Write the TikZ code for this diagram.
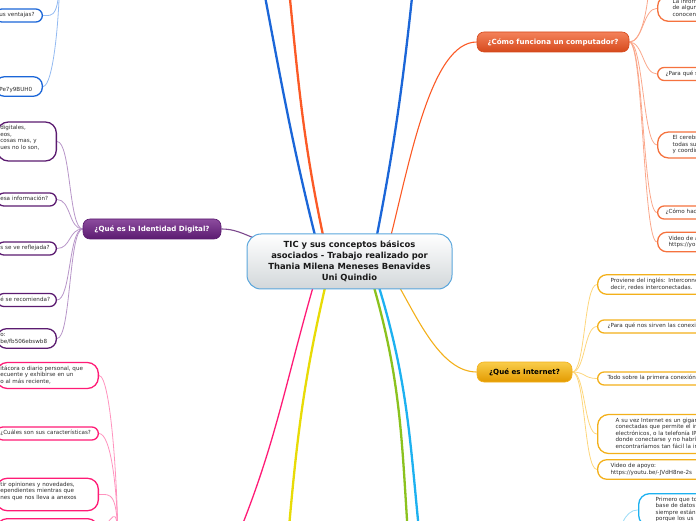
\documentclass[tikz,border=0pt]{standalone}
\usepackage{fontspec}
\setmainfont{DejaVu Sans}
\usepackage{xcolor}
\definecolor{cCenter}{HTML}{5AA6DC}
\definecolor{cCenterBot}{HTML}{D2D7DA}
\definecolor{cPurple}{HTML}{5B1B70}
\definecolor{cPurpleTop}{HTML}{8C4C9E}
\definecolor{cPurpleLine}{HTML}{B795C8}
\definecolor{cOrange}{HTML}{FB5A26}
\definecolor{cOrangeTop}{HTML}{F4825A}
\definecolor{cOrangeBot}{HTML}{D6491C}
\definecolor{cOrangeBox}{HTML}{F5723E}
\definecolor{cOrangeLine}{HTML}{FAA78B}
\definecolor{cAmber}{HTML}{F3B01A}
\definecolor{cAmberTop}{HTML}{F9CD4A}
\definecolor{cAmberBot}{HTML}{E39A00}
\definecolor{cAmberLine}{HTML}{FDD67C}
\definecolor{cBlue}{HTML}{1B66D8}
\definecolor{cBlueLine}{HTML}{93BAF1}
\definecolor{cPink}{HTML}{FF1B76}
\definecolor{cPinkLine}{HTML}{FF93BE}
\definecolor{cYellow}{HTML}{E8DB06}
\definecolor{cGreen}{HTML}{8BC21E}
\definecolor{cCyan}{HTML}{1DB1F0}
\definecolor{cCyanLine}{HTML}{9BDCF7}
\definecolor{cText}{HTML}{2E2E2E}
\usepackage{tikz}
\usetikzlibrary{positioning,backgrounds}
\tikzset{
  node-center/.style={draw=cCenter,line width=1pt,rounded corners=14pt,
    top color=white,bottom color=cCenterBot,minimum width=205pt,
    minimum height=55pt,align=center,text=black!90,
    font=\fontsize{8.4}{11}\selectfont\bfseries},
  node-main/.style={rounded corners=7pt,minimum height=20pt,inner xsep=0pt,
    line width=0.6pt,font=\fontsize{7.1}{8.5}\selectfont\bfseries,text=white},
  node-purple/.style={draw=cPurple,top color=cPurpleTop,bottom color=cPurple},
  node-orange/.style={draw=cOrangeBot,top color=cOrangeTop,bottom color=cOrangeBot},
  node-amber/.style={draw=cAmber,top color=cAmberTop,bottom color=cAmberBot,text=black},
  node-child/.style={fill=white,line width=1.3pt,rounded corners=6.5pt,
    inner ysep=3.25pt,align=left,text=cText,font=\fontsize{5.6}{6.5}\selectfont,
    execute at begin node=\strut,execute at end node=\strut},
  child-left/.style={node-child,anchor=east,inner xsep=3pt},
  child-right/.style={node-child,anchor=west,text width=130pt},
  link-main/.style={line width=2.3pt},
  link-thin/.style={line width=1.1pt},
  link-sub/.style={line width=0.8pt},
}

\begin{document}
\begin{tikzpicture}[x=1pt,y=1pt]
  \useasboundingbox (0,0) rectangle (696,520);
  \node[node-center] (tic) at (349.5,258.5)
    {TIC y sus conceptos básicos\\asociados - Trabajo realizado por\\Thania Milena Meneses Benavides\\Uni Quindio};
  \node[node-main,node-purple,minimum width=138pt] (idd) at (152,291) {¿Qué es la Identidad Digital?};
  \node[node-main,node-orange,minimum width=152pt] (cmp) at (553,478) {¿Cómo funciona un computador?};
  \node[node-main,node-amber,minimum width=95pt] (net) at (524.5,148) {¿Qué es Internet?};
  % ramas que siguen fuera del cuadro
  \coordinate (blu) at (258,560);
  \coordinate (org) at (286,560);
  \coordinate (blv) at (416,560);
  \coordinate (pnk) at (232,-30);
  \coordinate (ylw) at (287,-30);
  \coordinate (grn) at (409,-30);
  \coordinate (cyn) at (421,-30);
  \coordinate (bhub) at (60,560);
  \coordinate (phub) at (118,-30);
  \coordinate (chub) at (618,-30);
  \coordinate (cup) at (650,560);

  % identidad digital
  \node[child-left,draw=cPurple,text width=53pt,rounded corners=11pt] (id1) at (57,378.5) {digitales,\\eos,\\cosas mas, y\\ues no lo son,\\\mbox{}};
  \node[child-left,draw=cPurple,text width=53pt] (id2) at (57,320.5) {esa información?};
  \node[child-left,draw=cPurple,text width=53pt] (id3) at (57,271.5) {s se ve reflejada?};
  \node[child-left,draw=cPurple,text width=53pt] (id4) at (57,220) {é se recomienda?};
  \node[child-left,draw=cPurple,text width=53pt,rounded corners=9pt] (id5) at (57,181.5) {o:\\be/fb506ebswb8};

  \node[child-left,draw=cBlue,text width=39pt,inner xsep=4pt] (bl1) at (43,504.5) {us ventajas?};
  \node[child-left,draw=cBlue,text width=39pt,inner xsep=4pt,rounded corners=9pt] (bl2) at (43,433.5) {\mbox{}\\Pe7y9BUH0};

  \node[child-left,draw=cPink,text width=94pt,inner xsep=4pt,rounded corners=11pt] (pk1) at (99,144.5) {itácora o diario personal, que\\ecuente y exhibirse en un\\o al más reciente,};
  \node[child-left,draw=cPink,text width=94pt,inner xsep=4pt] (pk2) at (99,86.5) {¿Cuáles son sus características?};
  \node[child-left,draw=cPink,text width=94pt,inner xsep=4pt,rounded corners=11pt] (pk3) at (99,25.5) {tir opiniones y novedades,\\ependientes mientras que\\nes que nos lleva a anexos\\\mbox{}};
  \node[child-left,draw=cPink,text width=94pt,inner xsep=4pt,rounded corners=11pt,anchor=north east] (pk4) at (99,2) {\mbox{}\\\mbox{}};

  % como funciona un computador
  \node[child-right,draw=cOrangeBox,inner xsep=15pt,rounded corners=11pt,anchor=south west] (cp1) at (657,498) {La inform\\de algun\\conocen};
  \node[child-right,draw=cOrangeBox,inner xsep=8pt] (cp2) at (657,446) {¿Para qué s};
  \node[child-right,draw=cOrangeBox,inner xsep=15pt,rounded corners=11pt] (cp3) at (657,375) {El cerebr\\todas su\\y coordin};
  \node[child-right,draw=cOrangeBox,inner xsep=8pt] (cp4) at (657,307.5) {¿Cómo hac};
  \node[child-right,draw=cOrangeBox,inner xsep=11pt,rounded corners=9pt] (cp5) at (657,278) {Video de a\\https://yo};

  % internet
  \node[child-right,draw=cAmber,inner xsep=13pt,rounded corners=9pt] (in1) at (597,235.5) {Proviene del inglés: Interconne\\decir, redes interconectadas.};
  \node[child-right,draw=cAmber,inner xsep=10pt] (in2) at (597,193.5) {¿Para qué nos sirven las conexio};
  \node[child-right,draw=cAmber,inner xsep=10pt] (in3) at (597,141.5) {Todo sobre la primera conexión};
  \node[child-right,draw=cAmber,inner xsep=18pt,rounded corners=11pt] (in4) at (597,86) {A su vez Internet es un gigan\\conectadas que permite el in\\electrónicos, o la telefonía IP.\\donde conectarse y no habría\\encontraríamos tan fácil la in};
  \node[child-right,draw=cAmber,inner xsep=13pt,rounded corners=9pt] (in5) at (597,50.5) {Video de apoyo:\\https://youtu.be/-JVdH8ne-2s};

  \node[child-right,draw=cCyan,inner xsep=17pt,rounded corners=11pt,anchor=north west] (cy1) at (638,27) {Primero que to\\base de datos\\siempre están\\porque los us};

  \begin{scope}[on background layer]
    \draw[link-main,cBlue] ([xshift=-34pt,yshift=-4pt]tic.north) to[out=104,in=-79] (blu);
    \draw[link-main,cOrange] ([xshift=-26pt,yshift=-4pt]tic.north) to[out=102,in=-84] (org);
    \draw[link-main,cBlue] ([xshift=27pt,yshift=-4pt]tic.north) to[out=79,in=-96] (blv);
    \draw[link-thin,cOrange] ([xshift=41pt,yshift=-4pt]tic.north) .. controls +(20,80) and +(-45,0) .. (cmp.west);
    \draw[link-thin,cPurple!80] (idd.east) to[out=0,in=165] ([xshift=18pt,yshift=-8pt]tic.north west);
    \draw[link-thin,cPink,line width=1.3pt] ([xshift=-36pt,yshift=4pt]tic.south) to[out=-106,in=67] (pnk);
    \draw[link-main,cYellow] ([xshift=-24pt,yshift=4pt]tic.south) to[out=-103,in=85] (ylw);
    \draw[link-main,cGreen] ([xshift=24pt,yshift=4pt]tic.south) to[out=-74,in=94] (grn);
    \draw[link-main,cCyan] ([xshift=29pt,yshift=4pt]tic.south) to[out=-73,in=96] (cyn);
    \draw[link-thin,cAmber] ([xshift=49pt,yshift=4pt]tic.south) .. controls +(20,-35) and +(-35,0) .. (net.west);
    % ramas hijas
    \foreach \c in {id1,id2,id3,id4,id5}
      \draw[link-sub,cPurpleLine] (idd.west) .. controls +(-14,0) and +(14,0) .. (\c.east);
    \foreach \c in {cp1,cp2,cp3,cp4,cp5}
      \draw[link-sub,cOrangeLine] (cmp.east) .. controls +(14,0) and +(-14,0) .. (\c.west);
    \draw[link-sub,cOrangeLine] (cmp.east) .. controls +(14,0) and +(0,-40) .. (cup);
    \foreach \c in {in1,in2,in3,in4,in5}
      \draw[link-sub,cAmberLine] (net.east) .. controls +(13,0) and +(-13,0) .. (\c.west);
    \foreach \c in {pk1,pk2,pk3,pk4}
      \draw[link-sub,cPinkLine] (\c.east) .. controls +(12,0) and +(0,60) .. (phub);
    \foreach \c in {bl1,bl2}
      \draw[link-sub,cBlueLine] (\c.east) .. controls +(10,0) and +(0,-60) .. (bhub);
    \draw[link-sub,cCyanLine] (chub) .. controls +(0,20) and +(-14,0) .. (cy1.west);
  \end{scope}
\end{tikzpicture}
\end{document}
